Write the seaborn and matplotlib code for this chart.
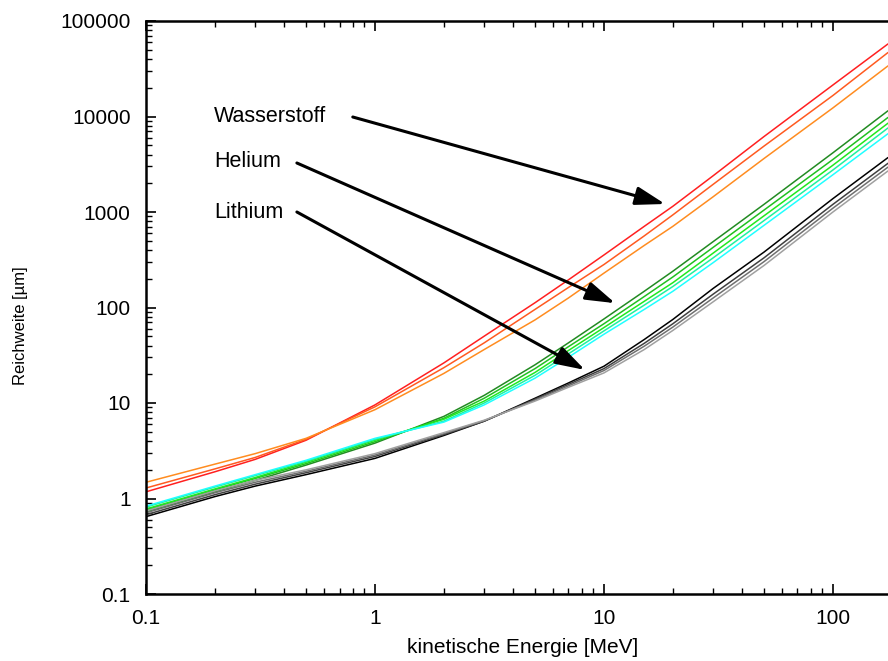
import matplotlib
matplotlib.use("Agg")
import matplotlib.pyplot as plt
import seaborn as sns
import pandas as pd

# kinetic energy grid [MeV]
energie = [0.1, 0.2, 0.3, 0.5, 1, 2, 3, 5, 7, 10, 15, 20, 30, 50, 100, 174]

# log10 of range [um]
# Wasserstoff
h_red = [0.07, 0.28, 0.41, 0.61, 0.98, 1.42, 1.70, 2.05, 2.29, 2.55, 2.85, 3.06, 3.38, 3.79, 4.33, 4.76]
h_orangered = [0.11, 0.31, 0.43, 0.62, 0.96, 1.37, 1.63, 1.98, 2.21, 2.45, 2.75, 2.97, 3.29, 3.69, 4.22, 4.67]
h_orange = [0.17, 0.36, 0.47, 0.63, 0.93, 1.31, 1.56, 1.87, 2.10, 2.36, 2.65, 2.85, 3.16, 3.56, 4.09, 4.53]
# Helium
he_darkgreen = [-0.14, 0.07, 0.19, 0.35, 0.58, 0.86, 1.08, 1.40, 1.63, 1.88, 2.17, 2.38, 2.69, 3.08, 3.62, 4.06]
he_green = [-0.12, 0.09, 0.21, 0.365, 0.595, 0.84, 1.05, 1.36, 1.59, 1.83, 2.115, 2.32, 2.63, 3.02, 3.55, 3.99]
he_lime = [-0.11, 0.10, 0.22, 0.38, 0.61, 0.83, 1.02, 1.32, 1.55, 1.79, 2.065, 2.26, 2.57, 2.96, 3.49, 3.93]
he_spring = [-0.09, 0.12, 0.24, 0.39, 0.62, 0.81, 1.00, 1.29, 1.515, 1.755, 2.025, 2.22, 2.52, 2.91, 3.44, 3.88]
he_cyan = [-0.08, 0.13, 0.25, 0.40, 0.63, 0.80, 0.98, 1.26, 1.48, 1.72, 1.98, 2.17, 2.47, 2.86, 3.39, 3.82]
# Lithium
li_black = [-0.19, 0.02, 0.13, 0.25, 0.42, 0.66, 0.81, 1.05, 1.21, 1.385, 1.665, 1.875, 2.20, 2.58, 3.14, 3.57]
li_darkgray = [-0.17, 0.04, 0.15, 0.27, 0.44, 0.67, 0.81, 1.04, 1.195, 1.36, 1.625, 1.83, 2.14, 2.52, 3.08, 3.51]
li_gray = [-0.15, 0.06, 0.17, 0.285, 0.455, 0.68, 0.815, 1.03, 1.18, 1.34, 1.595, 1.795, 2.10, 2.48, 3.04, 3.47]
li_lightgray = [-0.13, 0.08, 0.19, 0.30, 0.47, 0.69, 0.82, 1.02, 1.165, 1.315, 1.56, 1.76, 2.06, 2.44, 3.00, 3.43]

kurven = {
    "h1": (h_red, "#ff2020"),
    "h2": (h_orangered, "#ff5a20"),
    "h3": (h_orange, "#ff8c20"),
    "he1": (he_darkgreen, "#228b22"),
    "he2": (he_green, "#20c020"),
    "he3": (he_lime, "#20e820"),
    "he4": (he_spring, "#20f0a0"),
    "he5": (he_cyan, "#20ffff"),
    "li1": (li_black, "#000000"),
    "li2": (li_darkgray, "#404040"),
    "li3": (li_gray, "#707070"),
    "li4": (li_lightgray, "#a0a0a0"),
}

yticks = [0.1, 1, 10, 100, 1000, 10000, 100000]
ytick_labels = ["0.1", "1", "10", "100", "1000", "10000", "100000"]
xticks = [0.1, 1, 10, 100]
xtick_labels = ["0.1", "1", "10", "100"]

# annotations: label, text position, arrow start, arrow end (data coords)
labels = [
    ("Wasserstoff", (0.198, 10000), (0.80, 9880), (18.5, 1213)),
    ("Helium", (0.198, 3340), (0.456, 3260), (11.2, 111)),
    ("Lithium", (0.198, 1000), (0.456, 1000), (8.26, 22.2)),
]

rows = []
for name, (vals, _) in kurven.items():
    for e, v in zip(energie, vals):
        rows.append({"E": e, "R": 10 ** v, "kurve": name})
df = pd.DataFrame(rows)
palette = {k: c for k, (_, c) in kurven.items()}

sns.set_style("ticks")
plt.rcParams["font.family"] = ["Liberation Sans", "DejaVu Sans"]
plt.rcParams["xtick.direction"] = "in"
plt.rcParams["ytick.direction"] = "in"
plt.rcParams["text.color"] = "black"
plt.rcParams["axes.labelcolor"] = "black"
plt.rcParams["xtick.color"] = "black"
plt.rcParams["ytick.color"] = "black"

fig = plt.figure(figsize=(8.88, 6.61), dpi=100)
ax = fig.add_axes([146 / 888, 67 / 661, 742 / 888, 573 / 661])
ax.set_xscale("log")
ax.set_yscale("log")

sns.lineplot(data=df, x="E", y="R", hue="kurve", palette=palette,
             legend=False, estimator=None, sort=False, lw=1.1, ax=ax)

ax.set_xlim(0.1, 174)
ax.set_ylim(0.1, 100000)
ax.set_xticks(xticks)
ax.set_xticklabels(xtick_labels)
ax.set_yticks(yticks)
ax.set_yticklabels(ytick_labels)
ax.tick_params(which="major", length=7, width=1.2, top=True, right=False,
               labelsize=15, pad=11)
ax.tick_params(which="minor", length=4, width=1.0, top=True, right=False)

for side in ["left", "bottom", "top"]:
    ax.spines[side].set_linewidth(1.8)
    ax.spines[side].set_color("black")
ax.spines["right"].set_visible(False)

ax.set_xlabel("kinetische Energie [MeV]", fontsize=15)
ax.set_ylabel("Reichweite [µm]", fontsize=12)
ax.xaxis.set_label_coords(0.507, -0.077)
ax.yaxis.set_label_coords(-0.159, 0.468)

for text, pos, start, end in labels:
    ax.text(pos[0], pos[1], text, fontsize=15.5, ha="left", va="center")
    ax.annotate("", xy=end, xytext=start,
                arrowprops=dict(arrowstyle="-|>,head_length=0.9,head_width=0.28",
                                mutation_scale=20, lw=2.2, color="black",
                                shrinkA=0, shrinkB=0))

fig.savefig("out.png", dpi=100)
